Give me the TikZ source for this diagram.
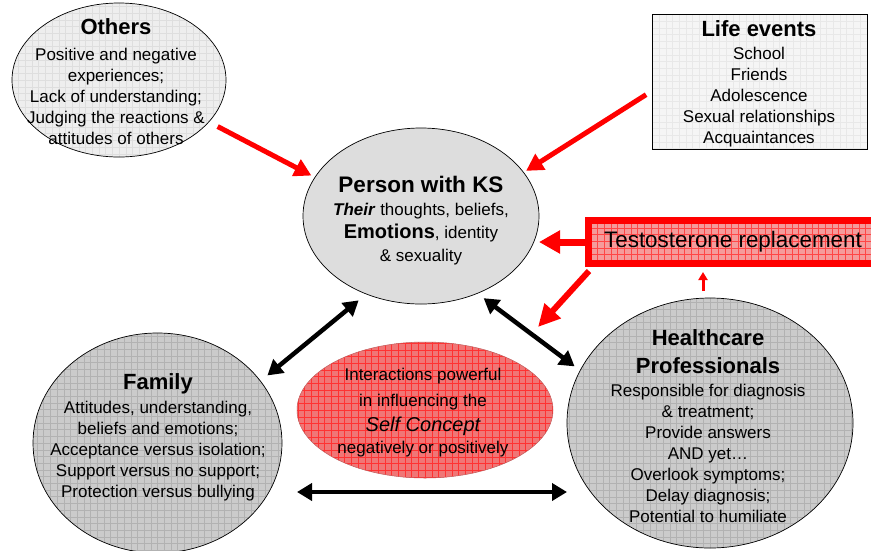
\documentclass[tikz,border=0pt]{standalone}
\usepackage{fontspec}
\setmainfont{Liberation Sans}
\usetikzlibrary{shapes.geometric,arrows.meta,calc}
\definecolor{redA}{RGB}{255,0,0}
\definecolor{othersFill}{RGB}{238,238,238}
\definecolor{othersGrid}{RGB}{222,222,222}
\definecolor{lifeFill}{RGB}{245,245,245}
\definecolor{lifeGrid}{RGB}{232,232,232}
\definecolor{personFill}{RGB}{221,221,221}
\definecolor{midFill}{RGB}{203,203,203}
\definecolor{midGrid}{RGB}{178,178,178}
\definecolor{selfFill}{RGB}{240,118,118}
\definecolor{selfGrid}{RGB}{255,50,50}
\definecolor{testoFill}{RGB}{245,155,155}
\definecolor{testoGrid}{RGB}{255,70,70}
\newcommand\kbody{\fontsize{17}{21}\selectfont}
\newcommand\ktitle{\fontsize{22}{26}\selectfont\bfseries}
\tikzset{
  ell/.style={ellipse, draw=black, line width=0.7pt, inner sep=0pt, outer sep=0pt},
  txt/.style={align=center, inner sep=0pt, font=\kbody},
  gridfill/.style={path picture={\draw[#1, line width=0.3pt]
      ([shift={(-3pt,-3pt)}]path picture bounding box.south west) grid[step=6.7pt]
      ([shift={(3pt,3pt)}]path picture bounding box.north east);}},
  redarr/.style={draw=redA, line width=5pt, -{Triangle[length=17pt,width=18pt]}},
  blkarr/.style={draw=black, line width=4.5pt,
      {Triangle[length=15pt,width=17pt]}-{Triangle[length=15pt,width=17pt]}},
}
\begin{document}
\begin{tikzpicture}[x=1pt,y=-1pt]
\clip (0,0) rectangle (871,550);
\fill[white] (0,0) rectangle (871,550);

% shapes
\node[ell, fill=othersFill, gridfill=othersGrid, minimum width=214pt, minimum height=154pt] (others) at (119,80) {};
\node[draw=black, line width=1pt, fill=lifeFill, gridfill=lifeGrid, minimum width=215pt, minimum height=135pt, inner sep=0pt, outer sep=0pt] (life) at (759.5,81.5) {};
\node[ell, fill=personFill, minimum width=236pt, minimum height=176pt] (person) at (421,216) {};
\node[ell, fill=midFill, gridfill=midGrid, minimum width=249pt, minimum height=220pt] (family) at (157.5,443) {};
\node[ell, fill=midFill, gridfill=midGrid, minimum width=286pt, minimum height=250pt] (health) at (710,423) {};
\node[ellipse, draw=selfFill!80!black, line width=0.5pt, fill=selfFill, gridfill=selfGrid, minimum width=256pt, minimum height=136pt, inner sep=0pt] (self) at (425,410) {};
\node[draw=redA, line width=7pt, fill=testoFill, gridfill=testoGrid, minimum width=289pt, minimum height=43pt, inner sep=0pt, font=\fontsize{22.4}{26}\selectfont] (testo) at (733,242) {Testosterone replacement};

% texts
\node[txt] (othersT) at (116,82) {{\ktitle Others}\\[5pt]Positive and negative\\experiences;\\Lack of understanding;\\Judging the reactions \&\\attitudes of others};
\node[txt] (lifeT) at (759,84) {{\ktitle Life events}\\[2pt]School\\Friends\\Adolescence\\Sexual relationships\\Acquaintances};
\node[txt, font=\fontsize{17}{23}\selectfont] (personT) at (421,221) {{\fontsize{22.5}{26}\selectfont\bfseries Person with KS}\\\textbf{\textit{Their}} thoughts, beliefs,\\{\fontsize{20}{23}\selectfont\bfseries Emotions}, identity\\\& sexuality};
\node[txt] (familyT) at (158,437) {{\ktitle Family}\\[3pt]Attitudes, understanding,\\beliefs and emotions;\\Acceptance versus isolation;\\Support versus no support;\\Protection versus bullying};
\node[txt] (healthT) at (708,426) {{\ktitle Healthcare}\\[7pt]{\ktitle Professionals}\\[2pt]Responsible for diagnosis\\\& treatment;\\Provide answers\\AND yet…\\Overlook symptoms;\\Delay diagnosis;\\Potential to humiliate};
\node[txt, font=\fontsize{17}{22}\selectfont] (selfT) at (423,413) {Interactions powerful\\[4pt]in influencing the\\[3pt]{\fontsize{20}{22}\selectfont\itshape Self Concept}\\negatively or positively};

% red arrows
\draw[redarr, shorten <=10pt, shorten >=4pt] (others.-25.4) -- (person.160.6);
\draw[redarr, shorten <=7pt, shorten >=3pt] (life.185.2) -- (person.23.9);
\draw[draw=redA, line width=7pt, -{Triangle[length=21pt,width=22pt]}] (testo.west) -- (person.east |- testo.west);
\coordinate (hit) at (538,327);
\draw[draw=redA, line width=6pt, -{Triangle[length=22pt,width=21pt]}] ([xshift=4pt,yshift=-4pt]testo.south west) -- (hit);
\draw[draw=redA, line width=3pt, -{Triangle[length=8pt,width=9pt]}, shorten <=7pt, shorten >=5pt] ([xshift=-7pt]health.north) -- ([xshift=-7pt]health.north |- testo.south);

% black interaction arrows
\draw[blkarr, shorten <=10pt, shorten >=9pt] (person.-125.4) -- (family.31.2);
\draw[blkarr, shorten <=8pt, shorten >=7pt] (person.-54) -- (health.158.85);
\draw[blkarr, shorten <=15pt] ([yshift=-49pt]family.east) -- ([yshift=-69pt]health.west);
\end{tikzpicture}
\end{document}
